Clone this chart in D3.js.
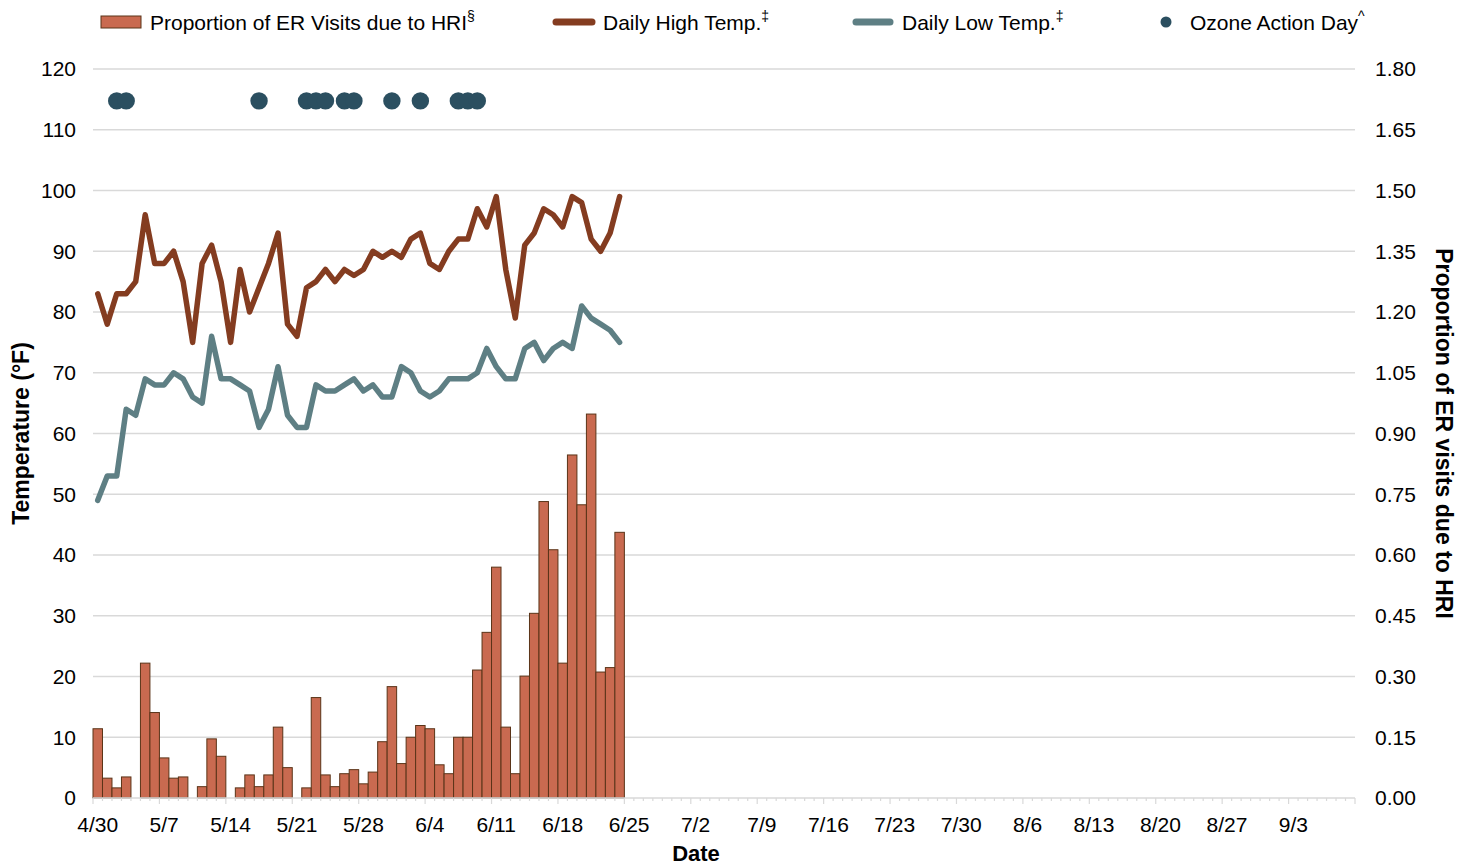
<!DOCTYPE html>
<html>
<head>
<meta charset="utf-8">
<script src="https://cdn.jsdelivr.net/npm/d3@7"></script>
<style>
  body { margin: 0; background: #fff; }
  text { font-family: "Liberation Sans", Arial, sans-serif; fill: #000; }
</style>
</head>
<body>
<svg id="chart" width="1475" height="867"></svg>
<script>
// proportion of ER visits due to HRI, one value per day from 4/30 (null = no bar)
const erVisits = [0.171, 0.049, 0.025, 0.052, null, 0.333, 0.211, 0.099, 0.049, 0.052,
  null, 0.028, 0.146, 0.103, null, 0.025, 0.057, 0.028, 0.057, 0.175,
  0.075, null, 0.025, 0.248, 0.057, 0.028, 0.060, 0.070, 0.035, 0.064,
  0.139, 0.275, 0.085, 0.150, 0.179, 0.171, 0.082, 0.060, 0.150, 0.150,
  0.316, 0.409, 0.570, 0.175, 0.060, 0.301, 0.456, 0.732, 0.613, 0.333,
  0.847, 0.724, 0.948, 0.311, 0.322, 0.656];

const highTemp = [83, 78, 83, 83, 85, 96, 88, 88, 90, 85,
  75, 88, 91, 85, 75, 87, 80, 84, 88, 93,
  78, 76, 84, 85, 87, 85, 87, 86, 87, 90,
  89, 90, 89, 92, 93, 88, 87, 90, 92, 92,
  97, 94, 99, 87, 79, 91, 93, 97, 96, 94,
  99, 98, 92, 90, 93, 99];

const lowTemp = [49, 53, 53, 64, 63, 69, 68, 68, 70, 69,
  66, 65, 76, 69, 69, 68, 67, 61, 64, 71,
  63, 61, 61, 68, 67, 67, 68, 69, 67, 68,
  66, 66, 71, 70, 67, 66, 67, 69, 69, 69,
  70, 74, 71, 69, 69, 74, 75, 72, 74, 75,
  74, 81, 79, 78, 77, 75];

const ozoneDays = ["5/2", "5/3", "5/17", "5/22", "5/23", "5/24", "5/26", "5/27",
  "5/31", "6/3", "6/7", "6/8", "6/9"];
const ozoneLevel = 115;

const tempTicks = [0, 10, 20, 30, 40, 50, 60, 70, 80, 90, 100, 110, 120];
const propTicks = [0, 0.15, 0.30, 0.45, 0.60, 0.75, 0.90, 1.05, 1.20, 1.35, 1.50, 1.65, 1.80];

const fmtDay = d => `${d.getMonth() + 1}/${d.getDate()}`;
// axis runs 4/30 through 9/9, one category per day
const days = d3.timeDay.range(new Date(2024, 3, 30), new Date(2024, 8, 10)).map(fmtDay);
const dataDays = days.slice(0, highTemp.length);

const plotL = 93, plotR = 1355, plotT = 69, plotB = 798;
const grid = "#d9d9d9";

const svg = d3.select("#chart");

const x = d3.scaleBand().domain(days).range([plotL, plotR]).padding(0);
const bw = x.bandwidth();
const yT = d3.scaleLinear().domain([0, 120]).range([plotB, plotT]);
const yP = d3.scaleLinear().domain([0, 1.8]).range([plotB, plotT]);

// gridlines
svg.append("g").selectAll("line")
  .data(tempTicks.filter(t => t > 0))
  .enter().append("line")
  .attr("x1", plotL).attr("x2", plotR)
  .attr("y1", d => yT(d)).attr("y2", d => yT(d))
  .attr("stroke", grid).attr("stroke-width", 1.3);

// left axis labels
svg.append("g").selectAll("text")
  .data(tempTicks)
  .enter().append("text")
  .attr("x", 76).attr("y", d => yT(d)).attr("dy", "0.35em")
  .attr("text-anchor", "end").style("font-size", "21px")
  .text(d => d);

// right axis labels
svg.append("g").selectAll("text")
  .data(propTicks)
  .enter().append("text")
  .attr("x", 1375).attr("y", d => yP(d)).attr("dy", "0.35em")
  .style("font-size", "21px")
  .text(d => d3.format(".2f")(d));

// bars
svg.append("g").selectAll("rect")
  .data(dataDays.map((day, i) => ({ day, v: erVisits[i] })).filter(d => d.v != null))
  .enter().append("rect")
  .attr("x", d => x(d.day)).attr("width", bw)
  .attr("y", d => yP(d.v)).attr("height", d => yP(0) - yP(d.v))
  .attr("fill", "#c96a50").attr("stroke", "#5a3418").attr("stroke-width", 1);

// x axis line + ticks
svg.append("line")
  .attr("x1", plotL).attr("x2", plotR).attr("y1", plotB).attr("y2", plotB)
  .attr("stroke", grid).attr("stroke-width", 1.5);

const tickIdx = d3.range(days.length + 1);
svg.append("g").selectAll("line")
  .data(tickIdx)
  .enter().append("line")
  .attr("x1", i => plotL + i * bw).attr("x2", i => plotL + i * bw)
  .attr("y1", plotB)
  .attr("y2", i => plotB + (i % 7 === 0 || i === days.length ? 6 : 3))
  .attr("stroke", grid).attr("stroke-width", 1.2);

svg.append("g").selectAll("text")
  .data(days.filter((d, i) => i % 7 === 0))
  .enter().append("text")
  .attr("x", d => x(d) + bw / 2).attr("y", 832)
  .attr("text-anchor", "middle").style("font-size", "21px")
  .text(d => d);

// temperature lines
const line = vals => d3.line()
  .x((d, i) => x(dataDays[i]) + bw / 2)
  .y(d => yT(d))(vals);

svg.append("path").attr("d", line(lowTemp))
  .attr("fill", "none").attr("stroke", "#5e7f84").attr("stroke-width", 5.5)
  .attr("stroke-linejoin", "round").attr("stroke-linecap", "round");

svg.append("path").attr("d", line(highTemp))
  .attr("fill", "none").attr("stroke", "#843c20").attr("stroke-width", 5.5)
  .attr("stroke-linejoin", "round").attr("stroke-linecap", "round");

// ozone action days
svg.append("g").selectAll("circle")
  .data(ozoneDays)
  .enter().append("circle")
  .attr("cx", d => x(d) + bw / 2).attr("cy", yT(ozoneLevel) + 1.5).attr("r", 8.7)
  .attr("fill", "#2b4f60");

// axis titles
svg.append("text")
  .attr("transform", `translate(29,${(plotT + plotB) / 2}) rotate(-90)`)
  .attr("text-anchor", "middle").style("font-size", "23px").style("font-weight", "bold")
  .text("Temperature (°F)");

svg.append("text")
  .attr("transform", `translate(1436,${(plotT + plotB) / 2}) rotate(90)`)
  .attr("text-anchor", "middle").style("font-size", "23px").style("font-weight", "bold")
  .text("Proportion of ER visits due to HRI");

svg.append("text")
  .attr("x", 696).attr("y", 861)
  .attr("text-anchor", "middle").style("font-size", "22px").style("font-weight", "bold")
  .text("Date");

// legend
const lg = svg.append("g").style("font-size", "21px");
lg.append("rect").attr("x", 101).attr("y", 16).attr("width", 40).attr("height", 12)
  .attr("fill", "#c96a50").attr("stroke", "#5a3418").attr("stroke-width", 1);
const t1 = lg.append("text").attr("x", 150).attr("y", 30);
t1.append("tspan").text("Proportion of ER Visits due to HRI");
t1.append("tspan").attr("dy", -9).style("font-size", "14px").text("§");

lg.append("line").attr("x1", 556).attr("x2", 592).attr("y1", 22).attr("y2", 22)
  .attr("stroke", "#843c20").attr("stroke-width", 7).attr("stroke-linecap", "round");
const t2 = lg.append("text").attr("x", 603).attr("y", 30);
t2.append("tspan").text("Daily High Temp.");
t2.append("tspan").attr("dy", -9).style("font-size", "14px").text("‡");

lg.append("line").attr("x1", 856).attr("x2", 890).attr("y1", 22).attr("y2", 22)
  .attr("stroke", "#5e7f84").attr("stroke-width", 7).attr("stroke-linecap", "round");
const t3 = lg.append("text").attr("x", 902).attr("y", 30);
t3.append("tspan").text("Daily Low Temp.");
t3.append("tspan").attr("dy", -9).style("font-size", "14px").text("‡");

lg.append("circle").attr("cx", 1166).attr("cy", 22).attr("r", 5.5).attr("fill", "#2b4f60");
const t4 = lg.append("text").attr("x", 1190).attr("y", 30);
t4.append("tspan").text("Ozone Action Day");
t4.append("tspan").attr("dy", -9).style("font-size", "14px").text("^");
</script>
</body>
</html>
